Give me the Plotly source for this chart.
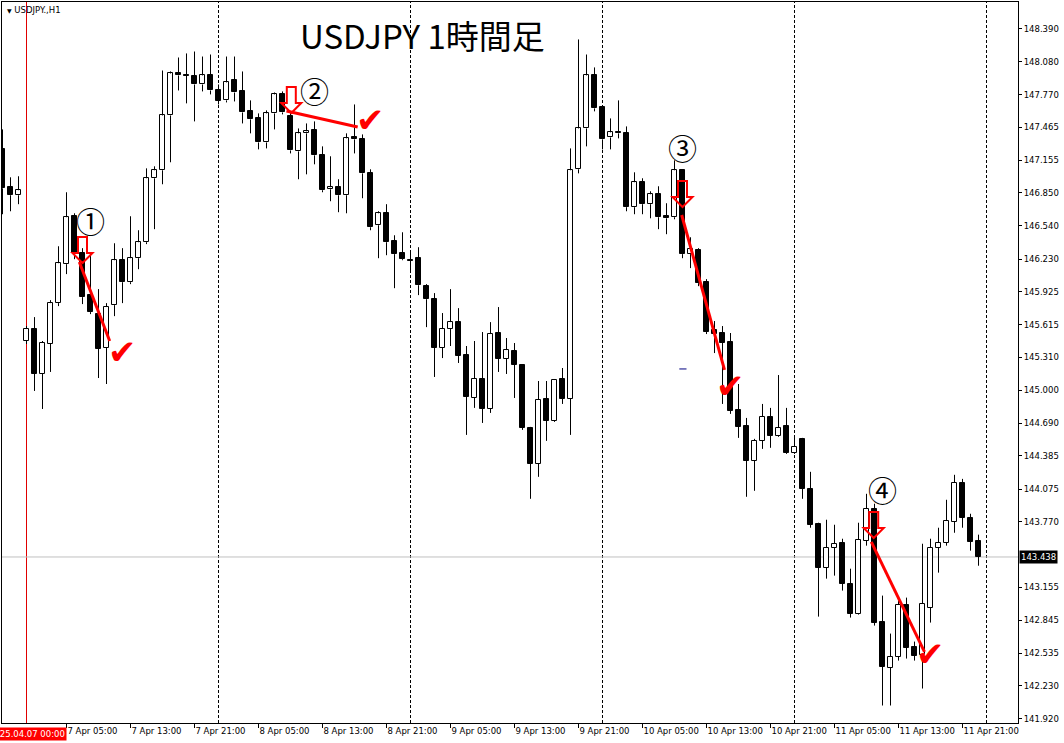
import plotly.graph_objects as go

# ---------------- data (USDJPY H1) ----------------
# bar index: hours since 2025-04-07 00:00 (first three bars are the previous Friday close)
bar_hour = list(range(-3, 120))

open_ = [147.258, 146.903, 146.828,
         145.462, 145.574, 145.153, 145.434, 145.817, 146.182, 146.631, 146.285, 145.892, 145.714,
         145.396, 145.798, 146.219, 146.013, 146.238, 146.388, 146.987, 147.062, 147.576, 147.969,
         147.951, 147.941, 147.866, 147.951,
         147.810, 147.717, 147.904, 147.801, 147.614, 147.548, 147.323, 147.595, 147.773, 147.567,
         147.239, 147.408, 147.436, 147.202, 146.884, 146.903, 146.828, 147.370, 147.352, 147.033,
         146.547, 146.659, 146.397, 146.285,
         146.219, 146.238, 145.976, 145.854, 145.396, 145.574, 145.639, 145.331, 144.928, 145.106,
         144.825, 145.537, 145.293, 145.368, 145.237, 144.647, 144.310, 144.919, 144.713, 145.106,
         144.919, 147.071, 147.454, 147.951,
         147.651, 147.370, 147.417, 147.408, 146.716, 146.950, 146.744, 146.837, 146.631, 146.622,
         147.062, 146.276, 146.313, 146.013, 145.565, 145.537, 145.452, 144.816, 144.666, 144.338,
         144.526, 144.750, 144.573, 144.666,
         144.414, 144.545, 144.077, 143.749, 143.337, 143.525, 143.572, 143.188, 142.907, 143.590,
         143.890, 142.832, 142.402, 142.505, 142.992, 142.598, 142.523, 142.963, 143.525, 143.572,
         143.768, 144.133, 143.806, 143.590]
high = [147.445, 146.996, 147.006,
        145.602, 145.686, 145.462, 145.845, 146.350, 146.856, 146.659, 146.332, 146.276, 145.948,
        145.817, 146.378, 146.332, 146.631, 146.500, 147.080, 147.099, 147.997, 147.988, 148.119,
        148.157, 148.175, 148.128, 148.147,
        147.866, 148.128, 148.128, 147.988, 147.717, 147.595, 147.623, 147.791, 147.801, 147.614,
        147.454, 147.501, 147.520, 147.286, 147.193, 146.978, 147.408, 147.679, 147.398, 147.071,
        146.678, 146.744, 146.453, 146.481,
        146.300, 146.341, 145.995, 145.911, 145.724, 145.948, 145.770, 145.415, 145.462, 145.546,
        145.639, 145.780, 145.490, 145.443, 145.246, 144.657, 145.087, 145.087, 145.106, 145.209,
        147.267, 148.288, 148.147, 148.026,
        147.670, 147.548, 147.717, 147.473, 147.043, 146.987, 146.865, 146.912, 146.753, 147.155,
        147.071, 146.434, 146.332, 146.042, 145.649, 145.602, 145.537, 145.059, 144.741, 144.545,
        144.872, 144.835, 145.143, 144.835,
        144.573, 144.554, 144.236, 143.759, 143.787, 143.740, 143.609, 143.328, 143.759, 144.030,
        143.937, 143.076, 142.720, 143.029, 143.057, 142.645, 143.562, 143.609, 143.712, 143.974,
        144.208, 144.170, 143.843, 143.647]
low = [146.650, 146.678, 146.744,
       145.434, 144.994, 144.825, 145.172, 145.789, 146.089, 146.229, 145.808, 145.714, 145.115,
       145.059, 145.695, 145.817, 145.995, 146.135, 146.370, 146.510, 146.931, 147.137, 147.810,
       147.689, 147.520, 147.801, 147.773,
       147.679, 147.698, 147.707, 147.501, 147.408, 147.258, 147.267, 147.445, 147.586, 147.220,
       146.978, 147.024, 147.118, 146.856, 146.772, 146.669, 146.659, 147.220, 146.800, 146.500,
       146.238, 146.266, 145.957, 146.219,
       146.100, 145.892, 145.592, 145.125, 145.302, 145.415, 145.256, 144.582, 144.835, 144.694,
       144.788, 145.172, 145.153, 144.928, 144.629, 143.983, 144.189, 144.526, 144.704, 144.872,
       144.582, 147.033, 147.286, 147.614,
       147.258, 147.258, 147.361, 146.678, 146.650, 146.650, 146.612, 146.510, 146.463, 146.603,
       146.238, 146.145, 145.976, 145.527, 145.349, 144.872, 144.779, 144.554, 144.002, 144.058,
       144.451, 144.461, 144.564, 144.404,
       144.404, 143.983, 143.712, 142.879, 143.235, 143.263, 143.123, 142.870, 142.898, 143.544,
       142.795, 142.046, 142.046, 142.467, 142.486, 142.467, 142.205, 142.823, 143.291, 143.544,
       143.665, 143.712, 143.497, 143.356]
close = [146.893, 146.828, 146.875,
         145.574, 145.153, 145.443, 145.817, 146.191, 146.622, 146.285, 145.873, 145.733, 145.387,
         145.780, 146.219, 146.013, 146.238, 146.388, 146.987, 147.062, 147.576, 147.969, 147.951,
         147.946, 147.866, 147.951, 147.810,
         147.707, 147.885, 147.791, 147.604, 147.539, 147.323, 147.595, 147.773, 147.604, 147.248,
         147.408, 147.427, 147.202, 146.875, 146.903, 146.828, 147.361, 147.352, 147.033, 146.528,
         146.659, 146.388, 146.276, 146.229,
         146.214, 145.985, 145.854, 145.396, 145.574, 145.639, 145.321, 144.937, 145.106, 144.825,
         145.527, 145.293, 145.377, 145.237, 144.647, 144.310, 144.909, 144.713, 145.096, 144.919,
         147.062, 147.454, 147.951, 147.642,
         147.352, 147.417, 147.408, 146.716, 146.950, 146.744, 146.837, 146.622, 146.612, 147.062,
         146.276, 146.322, 146.004, 145.546, 145.527, 145.443, 144.807, 144.657, 144.338, 144.526,
         144.750, 144.573, 144.647, 144.414,
         144.470, 144.077, 143.740, 143.337, 143.525, 143.562, 143.188, 142.907, 143.600, 143.890,
         142.823, 142.411, 142.505, 142.992, 142.589, 142.514, 143.001, 143.525, 143.572, 143.778,
         144.133, 143.806, 143.581, 143.438]

last_price = 143.438

x_tick_hours = [5, 13, 21, 29, 37, 45, 53, 61, 69, 77, 85, 93, 101, 109, 117]
x_tick_text = ["7 Apr 05:00", "7 Apr 13:00", "7 Apr 21:00", "8 Apr 05:00", "8 Apr 13:00",
               "8 Apr 21:00", "9 Apr 05:00", "9 Apr 13:00", "9 Apr 21:00", "10 Apr 05:00",
               "10 Apr 13:00", "10 Apr 21:00", "11 Apr 05:00", "11 Apr 13:00", "11 Apr 21:00"]
y_tick_vals = [148.390, 148.080, 147.770, 147.465, 147.155, 146.850, 146.540, 146.230,
               145.925, 145.615, 145.310, 145.000, 144.690, 144.385, 144.075, 143.770,
               143.155, 142.845, 142.535, 142.230, 141.920]
y_tick_text = ["%.3f" % v for v in y_tick_vals]

day_start_hours = [24, 48, 72, 96, 120]
marker_line_hour = 0
marker_line_label = "2025.04.07 00:00"

# signal annotations
signal_labels = ["①", "②", "③", "④"]
label_hour = [8.0, 36.0, 82.0, 107.0]
label_price = [146.596, 147.815, 147.281, 144.075]
arrow_hour = [7.0, 33.1, 82.0, 105.9]
arrow_price = [146.193, 147.599, 146.718, 143.616]
line_start_hour = [6.6, 32.5, 81.9, 105.6]
line_start_price = [146.203, 147.618, 146.643, 143.579]
line_end_hour = [10.4, 41.4, 87.25, 112.25]
line_end_price = [145.462, 147.468, 145.191, 142.548]
check_hour = [12.0, 43.0, 88.0, 113.0]
check_price = [145.359, 147.534, 145.041, 142.529]
dash_hour = [81.6, 82.5]
dash_price = [145.200, 145.200]

# ---------------- figure ----------------
W, H = 1064, 743
ML, MR, MT, MB = 2, 46, 2, 20
AXFONT = dict(family="DejaVu Sans", size=8.5, color="black")

fig = go.Figure()

# wicks (split so they do not cross hollow bodies)
wx, wy = [], []
for h, o, hi, lo, c in zip(bar_hour, open_, high, low, close):
    top, bot = max(o, c), min(o, c)
    if hi > top:
        wx += [h, h, None]; wy += [top, hi, None]
    if lo < bot:
        wx += [h, h, None]; wy += [lo, bot, None]
fig.add_trace(go.Scatter(x=wx, y=wy, mode="lines", line=dict(color="black", width=1),
                         hoverinfo="skip", showlegend=False))

# bodies
base = [min(o, c) for o, c in zip(open_, close)]
size = [max(abs(c - o), 0.0008) for o, c in zip(open_, close)]
cols = ["white" if c >= o else "black" for o, c in zip(open_, close)]
fig.add_trace(go.Bar(x=bar_hour, y=size, base=base, width=0.55,
                     marker=dict(color=cols, line=dict(color="black", width=1)),
                     hoverinfo="skip", showlegend=False))

# red trend lines
for i in range(len(signal_labels)):
    fig.add_trace(go.Scatter(x=[line_start_hour[i], line_end_hour[i]],
                             y=[line_start_price[i], line_end_price[i]],
                             mode="lines", line=dict(color="#ff0000", width=3),
                             hoverinfo="skip", showlegend=False))
fig.add_trace(go.Scatter(x=dash_hour, y=dash_price, mode="lines",
                         line=dict(color="#000080", width=1), hoverinfo="skip", showlegend=False))

shapes = []
for d in day_start_hours:
    shapes.append(dict(type="line", xref="x", yref="paper", x0=d, x1=d, y0=0, y1=1,
                       line=dict(color="black", width=1, dash="3px,2px"), layer="below"))
shapes.append(dict(type="line", xref="x", yref="paper", x0=marker_line_hour, x1=marker_line_hour,
                   y0=0, y1=1, line=dict(color="#e00000", width=1), layer="below"))
shapes.append(dict(type="line", xref="paper", yref="y", x0=0, x1=1, y0=last_price, y1=last_price,
                   line=dict(color="#c0c0c0", width=1), layer="below"))
# hollow red down arrows (pixel-sized, anchored at the tip)
arrow_path = "M0,0 L-10,10 L-4.5,10 L-4.5,26 L4.5,26 L4.5,10 L10,10 Z"
for ah, ap in zip(arrow_hour, arrow_price):
    shapes.append(dict(type="path", xref="x", yref="y", xsizemode="pixel", ysizemode="pixel",
                       xanchor=ah, yanchor=ap, path=arrow_path,
                       line=dict(color="#ff0000", width=2), fillcolor="rgba(0,0,0,0)"))

annotations = []
for t, lh, lp in zip(signal_labels, label_hour, label_price):
    annotations.append(dict(x=lh, y=lp, xref="x", yref="y", text=t, showarrow=False,
                            font=dict(family="Noto Sans CJK JP", size=29, color="black")))
for ch, cp in zip(check_hour, check_price):
    annotations.append(dict(x=ch, y=cp, xref="x", yref="y", text="✔", showarrow=False,
                            font=dict(family="DejaVu Sans", size=34, color="#ff0000")))
annotations.append(dict(x=(422 - ML) / (W - ML - MR), y=1 - (35 - MT) / (H - MT - MB),
                        xref="paper", yref="paper", text="USDJPY 1時間足", showarrow=False,
                        xanchor="center", yanchor="middle",
                        font=dict(family="Noto Sans CJK JP", size=33, color="black")))
annotations.append(dict(x=0.003, y=0.999, xref="paper", yref="paper",
                        text="<span style='font-size:6px'>▼</span> USDJPY.,H1", showarrow=False,
                        xanchor="left", yanchor="top", font=AXFONT))
annotations.append(dict(x=marker_line_hour, y=0, xref="x", yref="paper", text=marker_line_label,
                        showarrow=False, xanchor="center", yanchor="top", yshift=-4,
                        bgcolor="#ff0000", borderpad=1,
                        font=dict(family="DejaVu Sans", size=8.5, color="white")))
annotations.append(dict(x=1, y=last_price, xref="paper", yref="y", text="%.3f" % last_price,
                        showarrow=False, xanchor="left", yanchor="middle", xshift=1,
                        bgcolor="black", borderpad=1,
                        font=dict(family="DejaVu Sans", size=8.5, color="white")))

fig.update_layout(
    width=W, height=H, margin=dict(l=ML, r=MR, t=MT, b=MB, autoexpand=False),
    paper_bgcolor="white", plot_bgcolor="white", showlegend=False,
    shapes=shapes, annotations=annotations, bargap=0, hovermode=False,
    xaxis=dict(range=[-3.0625, 123.9375], showgrid=False, zeroline=False,
               showline=True, mirror=True, linecolor="black", linewidth=1,
               tickmode="array", tickvals=x_tick_hours, ticktext=x_tick_text,
               ticks="outside", ticklen=4, tickcolor="black", tickangle=0,
               ticklabelposition="outside right", tickfont=AXFONT, fixedrange=True),
    yaxis=dict(range=[141.882, 148.639], side="right", showgrid=False, zeroline=False,
               showline=True, mirror=True, linecolor="black", linewidth=1,
               tickmode="array", tickvals=y_tick_vals, ticktext=y_tick_text,
               ticks="outside", ticklen=3, tickcolor="black", tickfont=AXFONT, fixedrange=True),
)

fig.write_html("out.html", config={"displayModeBar": False},
               post_script="document.body.style.margin='0';document.body.style.overflow='hidden';")
